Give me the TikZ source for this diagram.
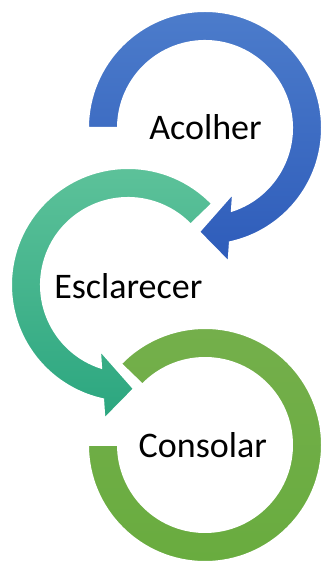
\documentclass[tikz,border=0pt]{standalone}
\usepackage{fontspec}
\setmainfont{Carlito}
\definecolor{bluetop}{HTML}{4C7CCB}
\definecolor{bluebot}{HTML}{2E5CBA}
\definecolor{tealtop}{HTML}{5FC39B}
\definecolor{tealbot}{HTML}{2BA67F}
\definecolor{greentop}{HTML}{74AF4B}
\definecolor{greenbot}{HTML}{69AC3F}
\tikzset{
  ring/.style={draw=white, line width=2pt, line join=miter},
  word/.style={anchor=base, font=\fontsize{36}{40}\selectfont}
}
\begin{document}
\begin{tikzpicture}[x=1pt,y=1pt]
\useasboundingbox (0,0) rectangle (324,565);

\coordinate (c1) at (205,437);
\coordinate (c2) at (128,280);
\coordinate (c3) at (205,120);

% Consolar
\begin{scope}[shift={(c3)}]
\shade[ring, top color=greentop, bottom color=greenbot] (180:117) arc[start angle=180, end angle=496, radius=117]
  -- (496:87) arc[start angle=496, end angle=180, radius=87] -- cycle;
\end{scope}

% Esclarecer
\begin{scope}[shift={(c2)}]
\shade[ring, top color=tealtop, bottom color=tealbot] (44:117) arc[start angle=44, end angle=257.7, radius=117]
  -- (260:136) -- (273.3:104) -- (246.7:71) -- (252:87)
  arc[start angle=252, end angle=44, radius=87] -- cycle;
\end{scope}

% Acolher
\begin{scope}[shift={(c1)}]
\shade[ring, top color=bluetop, bottom color=bluebot] (180:117) arc[start angle=180, end angle=-77.7, radius=117]
  -- (-80:136) -- (-93.3:104) -- (-66.7:71) -- (-72:87)
  arc[start angle=-72, end angle=180, radius=87] -- cycle;
\end{scope}

\node[word] (acolher) at (205.5,425) {Acolher};
\node[word] (esclarecer) at (128.3,266.7) {Esclarecer};
\node[word] (consolar) at (202.8,107.7) {Consolar};

\end{tikzpicture}
\end{document}
